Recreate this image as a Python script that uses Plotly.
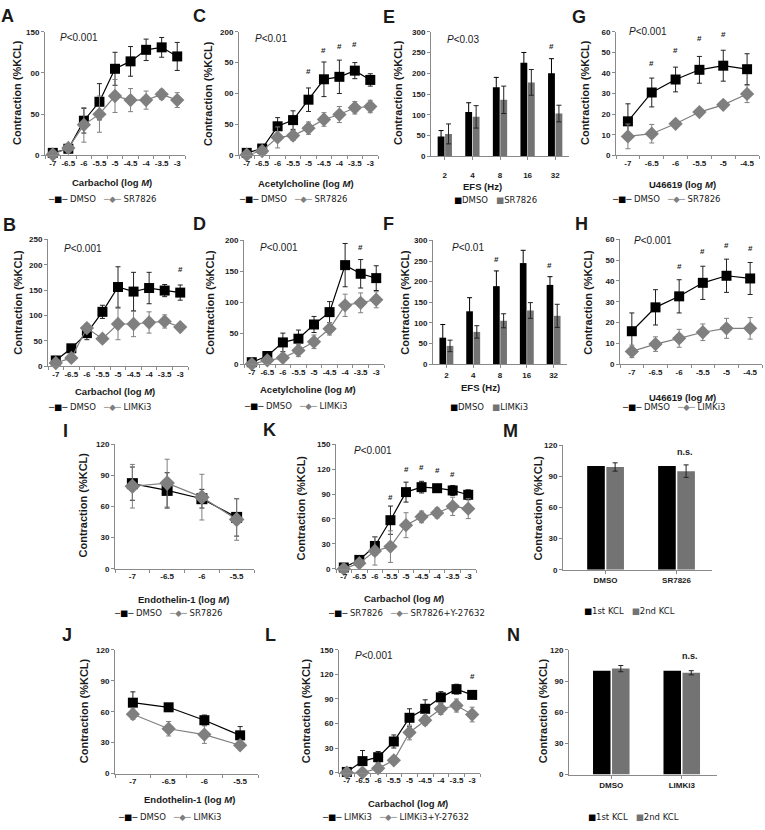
import plotly.graph_objects as go

W, H = 765, 830

# ---------------- data ----------------
carb_x = ["-7", "-6.5", "-6", "-5.5", "-5", "-4.5", "-4", "-3.5", "-3"]
u466_x = ["-7", "-6.5", "-6", "-5.5", "-5", "-4.5"]
et1_x = ["-7", "-6.5", "-6", "-5.5"]
efs_x = ["2", "4", "8", "16", "32"]
kclM_x = ["DMSO", "SR7826"]
kclN_x = ["DMSO", "LIMKi3"]

# A: Carbachol, DMSO vs SR7826
A_dmso = [3, 8, 42, 65, 105, 114, 128, 131, 120]
A_dmso_err = [2, 5, 15, 22, 20, 18, 13, 12, 17]
A_sr = [1, 9, 37, 50, 72, 67, 67, 74, 67]
A_sr_err = [2, 4, 21, 22, 20, 14, 11, 6, 9]
A_hash_x = ["-4", "-3.5", "-3"]
A_hash_y = [155, 155, 155]
A_yticks = [0, 50, 100, 150]
A_yticktext = ["0", "50", "00", "150"]

# C: Acetylcholine, DMSO vs SR7826
C_dmso = [4, 11, 47, 57, 90, 123, 127, 137, 122]
C_dmso_err = [2, 4, 14, 15, 19, 28, 27, 13, 10]
C_sr = [1, 7, 29, 32, 44, 58, 66, 77, 79]
C_sr_err = [1, 3, 17, 8, 10, 11, 13, 10, 10]
C_hash_x = ["-5", "-4.5", "-4", "-3.5"]
C_hash_y = [136, 169, 176, 179]
C_yticks = [0, 50, 100, 150, 200]
C_yticktext = ["0", "50", "00", "50", "200"]

# E: EFS, DMSO vs SR7826
E_dmso = [48, 107, 166, 225, 200]
E_dmso_err = [14, 22, 24, 25, 35]
E_sr = [54, 95, 136, 178, 103]
E_sr_err = [24, 27, 33, 31, 20]
E_hash_x = ["32"]
E_hash_y = [264]
E_yticks = [0, 50, 100, 150, 200, 250, 300]

# G: U46619, DMSO vs SR7826
G_dmso = [16.5, 30.5, 36.8, 41.5, 43.5, 41.8]
G_dmso_err = [8.5, 7, 6, 6.5, 7.5, 7.5]
G_sr = [9.2, 10.5, 15.3, 21, 24.5, 29.8]
G_sr_err = [6, 4.5, 1, 1, 1, 4.2]
G_hash_x = ["-6.5", "-6", "-5.5", "-5"]
G_hash_y = [44.8, 50.7, 56.8, 58.4]
G_yticks = [0, 10, 20, 30, 40, 50, 60]

# B: Carbachol, DMSO vs LIMKi3
B_dmso = [11, 35, 65, 107, 156, 147, 154, 149, 145]
B_dmso_err = [4, 5, 13, 13, 40, 38, 31, 12, 15]
B_lim = [6, 16, 75, 54, 83, 83, 86, 88, 77]
B_lim_err = [3, 4, 8, 6, 31, 25, 21, 13, 5]
B_hash_x = ["-3"]
B_hash_y = [191]
B_yticks = [0, 50, 100, 150, 200, 250]

# D: Acetylcholine, DMSO vs LIMKi3
D_dmso = [3, 13, 35, 41, 64, 84, 160, 146, 139]
D_dmso_err = [2, 3, 15, 14, 13, 17, 35, 23, 20]
D_lim = [0, 6, 10, 22, 36, 57, 95, 99, 104]
D_lim_err = [1, 2, 3, 10, 11, 10, 18, 16, 13]
D_hash_x = ["-4", "-3.5"]
D_hash_y = [208, 188]
D_yticks = [0, 50, 100, 150, 200]

# F: EFS, DMSO vs LIMKi3
F_dmso = [64, 128, 189, 245, 192]
F_dmso_err = [32, 33, 37, 31, 20]
F_lim = [44, 78, 105, 130, 117]
F_lim_err = [14, 15, 17, 19, 28]
F_hash_x = ["8", "16", "32"]
F_hash_y = [254, 305, 238]
F_yticks = [0, 50, 100, 150, 200, 250, 300]

# H: U46619, DMSO vs LIMKi3
H_dmso = [15.8, 27.3, 32.6, 39.1, 42.5, 41.2]
H_dmso_err = [8.8, 8.5, 8, 8, 8, 7.7]
H_lim = [6.1, 9.6, 12.4, 15.3, 17.2, 17.2]
H_lim_err = [3, 3.5, 4.3, 4, 4.8, 5.2]
H_hash_x = ["-6", "-5.5", "-5", "-4.5"]
H_hash_y = [47.2, 54.4, 57.3, 55.5]
H_yticks = [0, 10, 20, 30, 40, 50, 60]

# I: Endothelin-1, DMSO vs SR7826
I_dmso = [82, 75.5, 67.5, 49.5]
I_dmso_err = [16, 17, 9, 18]
I_sr = [79.5, 82.5, 69, 47.5]
I_sr_err = [21, 23, 22, 20]
I_yticks = [0, 30, 60, 90, 120]

# K: Carbachol, SR7826 vs SR7826+Y-27632
K_sr = [1.6, 10.7, 27.5, 58.5, 92.3, 98.3, 97, 94.3, 89.1]
K_sr_err = [2, 3, 11, 17, 12, 7, 3, 6, 6]
K_sry = [0, 6.8, 21.5, 26.7, 52.5, 62.5, 67.2, 75.2, 72.4]
K_sry_err = [1, 3, 17, 19, 15, 7, 6, 11, 12]
K_hash_x = ["-5.5", "-5", "-4.5", "-4", "-3.5"]
K_hash_y = [86, 120, 122, 118, 113]
K_yticks = [0, 30, 60, 90, 120, 150]

# M: KCl, DMSO / SR7826
M_first = [100, 100]
M_second = [99, 95]
M_second_err = [4, 6]
M_ns_y = 113
M_yticks = [0, 30, 60, 90, 120]

# J: Endothelin-1, DMSO vs LIMKi3
J_dmso = [68.8, 64.3, 51.8, 37.1]
J_dmso_err = [10.5, 3, 5, 8.5]
J_lim = [57.6, 43.5, 37.8, 27.5]
J_lim_err = [5, 7, 8.5, 3]
J_yticks = [0, 30, 60, 90, 120]

# L: Carbachol, LIMKi3 vs LIMKi3+Y-27632
L_lim = [0.8, 14, 18.8, 38, 67, 78, 92, 102, 95]
L_lim_err = [3, 13, 7, 8, 11, 11, 7, 6, 4]
L_limy = [0, 0, 5.2, 15, 49, 64, 78, 82, 71]
L_limy_err = [4, 2, 5, 4, 9, 6, 7, 8, 9]
L_hash_x = ["-3"]
L_hash_y = [118]
L_yticks = [0, 30, 60, 90, 120, 150]

# N: KCl, DMSO / LIMKi3
N_first = [100, 100]
N_second = [102, 98]
N_second_err = [3, 2]
N_ns_y = 114
N_yticks = [0, 30, 60, 90, 120]

# ---------------- styling ----------------
AXC = "#8a8a8a"
TXT = "#1a1a1a"
GREY = "#7f7f7f"
BARGREY = "#737373"
FONT = "Liberation Sans"
LFONT = "DejaVu Sans"


def px(x):
    return x / W


def py(y):
    return 1 - y / H


fig = go.Figure()
lay = {}
ann = []


def names(k):
    s = "" if k == 1 else str(k)
    return "x" + s, "y" + s, "xaxis" + s, "yaxis" + s


def set_axes(k, box, xrange, ymax, yticks, yticktext=None, standoff=None, boundaries=True):
    xa, ya, xan, yan = names(k)
    x0, x1, top, bot = box
    xd = dict(domain=[px(x0), px(x1)], anchor=ya, type="category", range=xrange,
              showline=True, linecolor=AXC, linewidth=1, ticks="outside", ticklen=3,
              tickcolor=AXC, tickangle=0,
              tickfont=dict(family=FONT, size=8, color=TXT, weight="bold"),
              showgrid=False, zeroline=False, fixedrange=True)
    if boundaries:
        xd["tickson"] = "boundaries"
    if standoff is not None:
        xd["ticklabelstandoff"] = standoff
    yd = dict(domain=[py(bot), py(top)], anchor=xa, range=[0, ymax], tickvals=yticks,
              ticktext=yticktext if yticktext is not None else [str(v) for v in yticks],
              showline=True, linecolor=AXC, linewidth=1, ticks="outside", ticklen=3,
              tickcolor=AXC, tickfont=dict(family=FONT, size=8, color=TXT, weight="bold"),
              showgrid=False, zeroline=False, fixedrange=True)
    lay[xan] = xd
    lay[yan] = yd


def legend_ann(lx, ly, items):
    parts = []
    for sym, col, nm in items:
        parts.append("<span style='color:%s'>%s</span>%s" % (col, sym, nm))
    ann.append(dict(x=px(lx), y=py(ly), xref="paper", yref="paper",
                    text="&nbsp;&nbsp;&nbsp;".join(parts), showarrow=False,
                    xanchor="left", yanchor="middle",
                    font=dict(family=LFONT, size=8.5, color=TXT)))


def text(xp, yp, t, size=9, bold=True, angle=0, xanchor="center"):
    ann.append(dict(x=px(xp), y=py(yp), xref="paper", yref="paper", text=t,
                    showarrow=False, textangle=angle, xanchor=xanchor, yanchor="middle",
                    font=dict(family=FONT, size=size, color=TXT,
                              weight="bold" if bold else "normal")))


def hashes(k, cats, hx, hy, xshift=0):
    xa, ya = names(k)[:2]
    for c, v in zip(hx, hy):
        ann.append(dict(x=cats.index(c), y=v, xref=xa, yref=ya, text="#", showarrow=False,
                        xshift=xshift, yanchor="middle",
                        font=dict(family=FONT, size=8, color=TXT, weight="bold")))


def line_panel(k, cats, s1, e1, s2, e2, n1, n2, box, ymax, yticks, yticktext, leg,
               sq=10, dm=11):
    xa, ya = names(k)[:2]
    fig.add_trace(go.Scatter(x=cats, y=s1, mode="lines+markers", name=n1, showlegend=False,
                             line=dict(color="black", width=1.2),
                             marker=dict(symbol="square", size=sq, color="black"),
                             error_y=dict(type="data", array=e1, color="#222222",
                                          thickness=1, width=2.5),
                             cliponaxis=False, xaxis=xa, yaxis=ya))
    fig.add_trace(go.Scatter(x=cats, y=s2, mode="lines+markers", name=n2, showlegend=False,
                             line=dict(color=GREY, width=1.2),
                             marker=dict(symbol="diamond", size=dm, color=GREY),
                             error_y=dict(type="data", array=e2, color=GREY,
                                          thickness=1, width=2.5),
                             cliponaxis=False, xaxis=xa, yaxis=ya))
    set_axes(k, box, [-0.5, len(cats) - 0.5], ymax, yticks, yticktext)
    legend_ann(leg[0], leg[1], [("─■─ ", "black", n1), ("─◆─ ", GREY, n2)])


def bar_panel(k, cats, s1, e1, s2, e2, n1, n2, box, xrange, ymax, yticks, leg,
              standoff=None):
    xa, ya = names(k)[:2]
    b1 = dict(x=cats, y=s1, name=n1, showlegend=False,
              marker=dict(color="black", line=dict(width=0)),
              cliponaxis=False, xaxis=xa, yaxis=ya)
    if e1 is not None:
        b1["error_y"] = dict(type="data", array=e1, color="black", thickness=1, width=2.5)
    fig.add_trace(go.Bar(**b1))
    fig.add_trace(go.Bar(x=cats, y=s2, name=n2, showlegend=False,
                         marker=dict(color=BARGREY, line=dict(width=0)),
                         error_y=dict(type="data", array=e2, color="#222222", thickness=1,
                                      width=2.5),
                         cliponaxis=False, xaxis=xa, yaxis=ya))
    set_axes(k, box, xrange, ymax, yticks, None, standoff=standoff, boundaries=False)
    legend_ann(leg[0], leg[1], [("■", "black", n1), ("■", BARGREY, n2)])


# ---------------- row 1 ----------------
line_panel(1, carb_x, A_dmso, A_dmso_err, A_sr, A_sr_err, "DMSO", "SR7826",
           (45, 185, 28, 153), 150, A_yticks, A_yticktext, (46, 197))
hashes(1, carb_x, A_hash_x, A_hash_y)
line_panel(2, carb_x, C_dmso, C_dmso_err, C_sr, C_sr_err, "DMSO", "SR7826",
           (239, 378, 28, 153), 200, C_yticks, C_yticktext, (237, 197))
hashes(2, carb_x, C_hash_x, C_hash_y)
bar_panel(3, efs_x, E_dmso, E_dmso_err, E_sr, E_sr_err, "DMSO", "SR7826",
          (431, 569, 28, 154), [-0.5, 4.5], 300, E_yticks, (452, 198), standoff=8)
hashes(3, efs_x, E_hash_x, E_hash_y, xshift=-4)
line_panel(4, u466_x, G_dmso, G_dmso_err, G_sr, G_sr_err, "DMSO", "SR7826",
           (616, 759, 28, 153), 60, G_yticks, None, (610, 197))
hashes(4, u466_x, G_hash_x, G_hash_y)

# ---------------- row 2 ----------------
line_panel(5, carb_x, B_dmso, B_dmso_err, B_lim, B_lim_err, "DMSO", "LIMKi3",
           (48, 188, 238, 366), 250, B_yticks, None, (46, 407))
hashes(5, carb_x, B_hash_x, B_hash_y)
line_panel(6, carb_x, D_dmso, D_dmso_err, D_lim, D_lim_err, "DMSO", "LIMKi3",
           (244, 384, 239, 364), 200, D_yticks, None, (242, 406))
hashes(6, carb_x, D_hash_x, D_hash_y)
bar_panel(7, efs_x, F_dmso, F_dmso_err, F_lim, F_lim_err, "DMSO", "LIMKi3",
          (433, 567, 239, 364), [-0.5, 4.5], 300, F_yticks, (448, 407))
hashes(7, efs_x, F_hash_x, F_hash_y, xshift=-4)
line_panel(8, u466_x, H_dmso, H_dmso_err, H_lim, H_lim_err, "DMSO", "LIMKi3",
           (620, 762, 238, 364), 60, H_yticks, None, (620, 407))
hashes(8, u466_x, H_hash_x, H_hash_y)

# ---------------- row 3 ----------------
line_panel(9, et1_x, I_dmso, I_dmso_err, I_sr, I_sr_err, "DMSO", "SR7826",
           (115, 254, 445, 571), 120, I_yticks, None, (112, 616), sq=11, dm=12)
line_panel(10, carb_x, K_sr, K_sr_err, K_sry, K_sry_err, "SR7826", "SR7826+Y-27632",
           (336, 476, 445, 571), 150, K_yticks, None, (326, 616))
hashes(10, carb_x, K_hash_x, K_hash_y)
bar_panel(11, kclM_x, M_first, None, M_second, M_second_err, "1st KCL", "2nd KCL",
          (563, 712, 446, 572), [-0.6, 1.5], 120, M_yticks, (582, 614))
ann.append(dict(x=1, y=M_ns_y, xref="x11", yref="y11", text="n.s.", showarrow=False,
                xshift=8, font=dict(family=FONT, size=9, color=TXT, weight="bold")))

# ---------------- row 4 ----------------
line_panel(12, et1_x, J_dmso, J_dmso_err, J_lim, J_lim_err, "DMSO", "LIMKi3",
           (115, 258, 653, 778), 120, J_yticks, None, (116, 822))
line_panel(13, carb_x, L_lim, L_lim_err, L_limy, L_limy_err, "LIMKi3", "LIMKi3+Y-27632",
           (339, 480, 653, 777), 150, L_yticks, None, (320, 822))
hashes(13, carb_x, L_hash_x, L_hash_y)
bar_panel(14, kclN_x, N_first, None, N_second, N_second_err, "1st KCL", "2nd KCL",
          (569, 717, 653, 779), [-0.6, 1.5], 120, N_yticks, (586, 822))
ann.append(dict(x=1, y=N_ns_y, xref="x14", yref="y14", text="n.s.", showarrow=False,
                xshift=8, font=dict(family=FONT, size=9, color=TXT, weight="bold")))

# ---------------- texts: panel letters ----------------
for L, xx, yy in [("A", 8, 12), ("C", 199, 12), ("E", 389, 13), ("G", 579, 13),
                  ("B", 9, 223), ("D", 199, 222), ("F", 388, 222), ("H", 581, 222),
                  ("I", 65, 432), ("K", 269, 431), ("M", 511, 432),
                  ("J", 67, 638), ("L", 270, 638), ("N", 513, 638)]:
    text(xx, yy, L, size=18, bold=True)

# y-axis titles
for xx, yy in [(17, 90), (208, 90), (398, 90), (585, 90),
               (18, 302), (210, 302), (405, 302), (588, 302),
               (83, 507), (301, 510), (538, 510),
               (84, 715), (306, 715), (543, 715)]:
    text(xx, yy, "Contraction (%KCL)", size=11, bold=True, angle=-90)

# x-axis titles
for xx, yy, t in [(112, 180, "Carbachol (log <i>M</i>)"), (306, 181, "Acetylcholine (log <i>M</i>)"),
                  (482, 184, "EFS (Hz)"), (682, 182, "U46619 (log <i>M</i>)"),
                  (115, 392, "Carbachol (log <i>M</i>)"), (308, 390, "Acetylcholine (log <i>M</i>)"),
                  (480, 388, "EFS (Hz)"), (682, 398, "U46619 (log <i>M</i>)"),
                  (183, 602, "Endothelin-1 (log <i>M</i>)"), (404, 601, "Carbachol (log <i>M</i>)"),
                  (189, 804, "Endothelin-1 (log <i>M</i>)"), (408, 808, "Carbachol (log <i>M</i>)")]:
    text(xx, yy, t, size=9.5, bold=True)

# P values
for xx, yy, t in [(58, 34, "<0.001"), (253, 35, "<0.01"), (445, 36, "<0.03"), (627, 28, "<0.001"),
                  (62, 247, "<0.001"), (258, 246, "<0.001"), (450, 246, "<0.01"), (632, 239, "<0.001"),
                  (352, 451, "<0.001"), (353, 659, "<0.001")]:
    text(xx, yy, "<i>P</i>" + t.replace("<", "&lt;"), size=10, bold=False, xanchor="left")

fig.update_layout(**lay)
fig.update_layout(width=W, height=H, margin=dict(l=0, r=0, t=0, b=0),
                  paper_bgcolor="white", plot_bgcolor="white", showlegend=False,
                  barmode="group", bargap=0.46, bargroupgap=0.08,
                  annotations=ann, font=dict(family=FONT, color=TXT))

fig.write_html("out.html", config={"displayModeBar": False},
               post_script="document.body.style.margin='0px';"
                           "document.body.style.overflow='hidden';")
